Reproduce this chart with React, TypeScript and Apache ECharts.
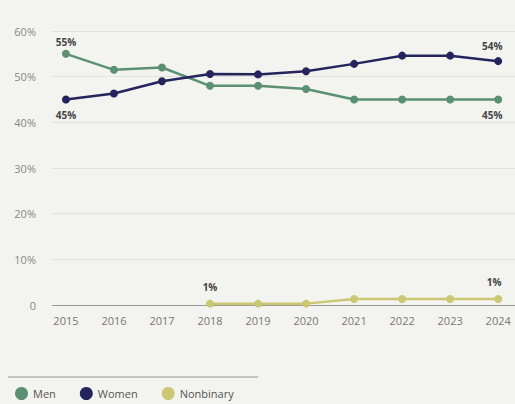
import React, { useEffect, useRef } from "react";
import * as echarts from "echarts";

const years = [2015, 2016, 2017, 2018, 2019, 2020, 2021, 2022, 2023, 2024];
const men = [55, 51.5, 52, 48, 48, 47.3, 45, 45, 45, 45];
const women = [45, 46.3, 49, 50.6, 50.5, 51.2, 52.8, 54.6, 54.6, 53.4];
const nonbinaryYears = [2018, 2019, 2020, 2021, 2022, 2023, 2024];
const nonbinary = [0.3, 0.3, 0.3, 1.3, 1.3, 1.3, 1.3];
const yTicks = [0, 10, 20, 30, 40, 50, 60];

// end-point labels: index -> [text, position, offsetX, distance]
const menLabels: Record<number, [string, string, number, number]> = { 0: ["55%", "top", 0, 3], 9: ["45%", "bottom", -6, 6] };
const womenLabels: Record<number, [string, string, number, number]> = { 0: ["45%", "bottom", 0, 6], 9: ["54%", "top", -6, 6] };
const nbLabels: Record<number, [string, string, number, number]> = { 0: ["1%", "top", 0, 8], 6: ["1%", "top", -4, 8] };

const FONT = "Open Sans";
const LABEL_COLOR = "#444";

function build(xs: number[], ys: number[], labels: Record<number, [string, string, number, number]>) {
  return xs.map((x, i) => {
    const l = labels[i];
    if (!l) return { value: [x, ys[i]] };
    return {
      value: [x, ys[i]],
      label: {
        show: true,
        formatter: l[0],
        position: l[1],
        offset: [l[2], 0],
        distance: l[3],
        color: LABEL_COLOR,
        fontFamily: FONT,
        fontWeight: "bold",
        fontSize: 10,
      },
    };
  });
}

export default function App() {
  const ref = useRef<HTMLDivElement>(null);
  useEffect(() => {
    if (!ref.current) return;
    const chart = echarts.init(ref.current, null, { renderer: "svg" });
    chart.setOption({
      animation: false,
      backgroundColor: "#f3f3ef",
      textStyle: { fontFamily: FONT },
      grid: { left: 52, right: 0, top: 31, bottom: 99 },
      xAxis: {
        type: "value",
        min: 2014.71,
        max: 2024.35,
        axisLine: { show: false },
        axisTick: { show: false },
        splitLine: { show: false },
        axisLabel: {
          customValues: years,
          formatter: (v: number) => String(v),
          color: "#777",
          fontSize: 11,
          fontFamily: FONT,
          margin: 10,
        },
      },
      yAxis: {
        type: "value",
        min: 0,
        max: 60,
        interval: 10,
        axisLine: { show: false },
        axisTick: { show: false },
        splitLine: {
          show: true,
          lineStyle: { color: ["#9a9a96", "#e2e2dd", "#e2e2dd", "#e2e2dd", "#e2e2dd", "#e2e2dd", "#e2e2dd"], width: 1 },
        },
        axisLabel: {
          formatter: (v: number) => (v === 0 ? "0" : v + "%"),
          color: "#888",
          fontSize: 11,
          fontFamily: FONT,
          margin: 16,
          customValues: yTicks,
        },
      },
      legend: {
        left: 10,
        top: 382,
        icon: "circle",
        itemWidth: 13,
        itemHeight: 13,
        itemGap: 24,
        textStyle: { color: "#555", fontSize: 11, fontFamily: FONT },
        data: ["Men", "Women", "Nonbinary"],
      },
      graphic: [
        {
          type: "line",
          shape: { x1: 8, y1: 377, x2: 258, y2: 377 },
          style: { stroke: "#b5b5b0", lineWidth: 1.5 },
        },
      ],
      series: [
        {
          name: "Men",
          type: "line",
          data: build(years, men, menLabels),
          color: "#5b9073",
          lineStyle: { width: 2.5 },
          symbol: "circle",
          symbolSize: 8,
        },
        {
          name: "Women",
          type: "line",
          data: build(years, women, womenLabels),
          color: "#25255e",
          lineStyle: { width: 2.5 },
          symbol: "circle",
          symbolSize: 8,
        },
        {
          name: "Nonbinary",
          type: "line",
          data: build(nonbinaryYears, nonbinary, nbLabels),
          color: "#cbc772",
          lineStyle: { width: 2.5 },
          symbol: "circle",
          symbolSize: 8,
        },
      ],
    });
    return () => chart.dispose();
  }, []);
  return (
    <div
      ref={ref}
      style={{ position: "fixed", left: 0, top: 0, width: 515, height: 404 }}
    />
  );
}
